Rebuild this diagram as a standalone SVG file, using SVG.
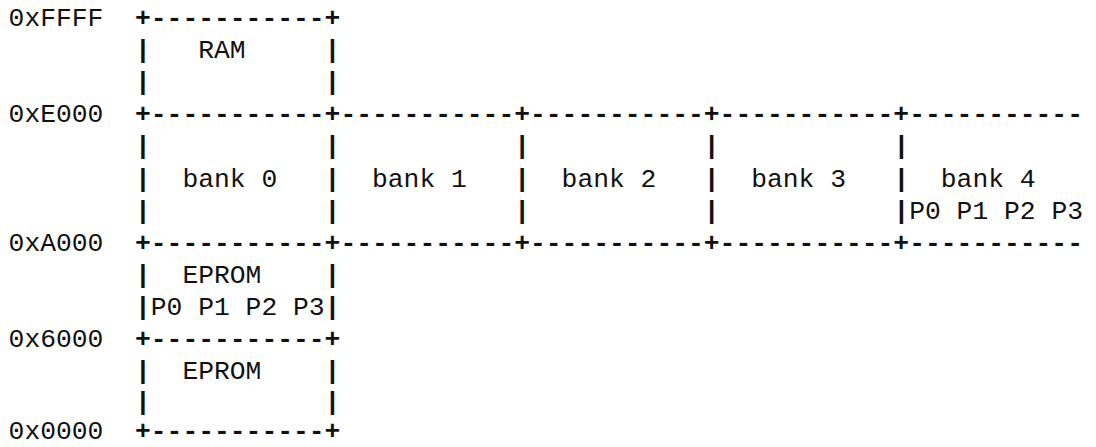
<svg xmlns="http://www.w3.org/2000/svg" width="1096" height="447" viewBox="0 0 1096 447">
<style>
text{font-family:"Liberation Mono","Courier New",monospace;font-size:26.33px;fill:#111}
.b{font-weight:bold}
</style>
<rect width="1096" height="447" fill="#fff"/>
<g id="addresses">
<text x="8.6" y="26">0xFFFF</text>
<text x="8.6" y="122.3">0xE000</text>
<text x="8.6" y="250.7">0xA000</text>
<text x="8.6" y="347">0x6000</text>
<text x="8.6" y="438.5">0x0000</text>
</g>
<g id="connectors" class="b">
<text x="135" y="26">+-----------+</text>
<text x="135" y="122.3">+-----------+-----------+-----------+-----------+-----------</text>
<text x="135" y="250.7">+-----------+-----------+-----------+-----------+-----------</text>
<text x="135" y="347">+-----------+</text>
<text x="135" y="438.5">+-----------+</text>
<text x="135" y="58.1">|</text><text x="324.6" y="58.1">|</text>
<text x="135" y="90.2">|</text><text x="324.6" y="90.2">|</text>
<text x="135" y="154.4">|</text><text x="324.6" y="154.4">|</text><text x="514.2" y="154.4">|</text><text x="703.8" y="154.4">|</text><text x="893.4" y="154.4">|</text>
<text x="135" y="186.5">|</text><text x="324.6" y="186.5">|</text><text x="514.2" y="186.5">|</text><text x="703.8" y="186.5">|</text><text x="893.4" y="186.5">|</text>
<text x="135" y="218.6">|</text><text x="324.6" y="218.6">|</text><text x="514.2" y="218.6">|</text><text x="703.8" y="218.6">|</text><text x="893.4" y="218.6">|</text>
<text x="135" y="282.8">|</text><text x="324.6" y="282.8">|</text>
<text x="135" y="314.9">|</text><text x="324.6" y="314.9">|</text>
<text x="135" y="379.1">|</text><text x="324.6" y="379.1">|</text>
<text x="135" y="410">|</text><text x="324.6" y="410">|</text>
</g>
<g id="ram"><text x="198.2" y="58.1">RAM</text></g>
<g id="bank0"><text x="182.4" y="186.5">bank 0</text></g>
<g id="bank1"><text x="372" y="186.5">bank 1</text></g>
<g id="bank2"><text x="561.6" y="186.5">bank 2</text></g>
<g id="bank3"><text x="751.2" y="186.5">bank 3</text></g>
<g id="bank4"><text x="940.8" y="186.5">bank 4</text><text x="909.2" y="218.6">P0 P1 P2 P3</text></g>
<g id="eprom-paged"><text x="182.4" y="282.8">EPROM</text><text x="150.8" y="314.9">P0 P1 P2 P3</text></g>
<g id="eprom"><text x="182.4" y="379.1">EPROM</text></g>
</svg>
